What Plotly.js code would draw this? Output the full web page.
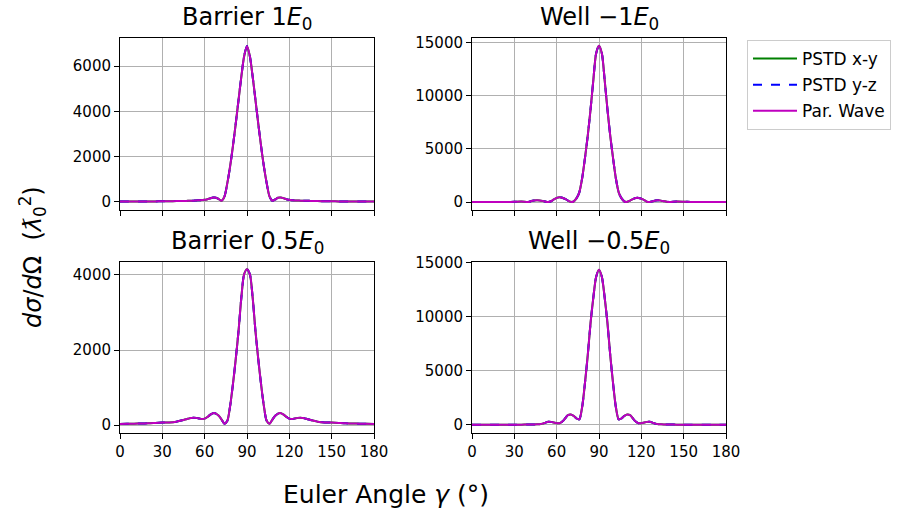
<!DOCTYPE html>
<html>
<head>
<meta charset="utf-8">
<script src="https://cdn.plot.ly/plotly-3.0.1.min.js"></script>
<style>html,body{margin:0;padding:0;background:#fff;}#chart{width:900px;height:516px;}</style>
</head>
<body>
<div id="chart"></div>
<script>
// Euler angle gamma (degrees)
const angles = [0,5,10,15,20,25,30,35,40,
  42,44,46,48,50,52,54,56,58,60,62,64,66,68,70,72,74,76,78,80,82,84,86,88,90,
  92,94,96,98,100,102,104,106,108,110,112,114,116,118,120,122,124,126,128,130,132,134,136,138,
  140,145,150,155,160,165,170,175,180];

// Barrier 1 E0
const barrier1 = [10,10,10,10,10,10,15,20,25,
  28,30,32,35,40,45,55,60,70,80,110,150,180,175,110,40,220,800,1550,2450,3450,4500,5550,6450,6900,
  6450,5550,4500,3450,2450,1550,800,220,40,100,170,180,150,110,80,65,55,50,45,40,38,35,32,30,
  25,20,15,10,10,10,10,10,10];

// Well -1 E0
const well1 = [5,5,5,5,5,10,30,55,10,
  100,150,170,160,120,50,10,80,250,400,460,420,300,150,30,60,350,900,2200,4100,6200,8700,11500,14000,14700,
  14000,11500,8700,6200,4100,2200,900,350,60,30,150,280,380,400,330,200,40,20,80,150,170,140,90,40,
  15,55,40,15,5,5,5,5,5];

// Barrier 0.5 E0
const barrier05 = [35,38,40,45,50,60,70,75,95,
  110,130,150,170,190,200,195,180,165,175,220,280,320,310,250,150,40,110,500,1080,1750,2500,3400,4020,4150,
  4020,3400,2500,1750,1080,500,110,40,150,250,310,320,280,220,175,165,180,195,200,190,170,150,130,110,
  95,75,70,60,50,45,40,38,35];

// Well -0.5 E0
const well05 = [15,15,15,15,15,15,15,15,20,
  25,30,40,60,110,200,280,270,210,150,140,300,600,900,950,820,600,500,1600,3800,6400,9400,11800,13700,14350,
  13700,11800,9400,6400,3800,1600,500,600,820,950,900,600,300,140,150,210,270,280,200,110,60,40,30,25,
  20,15,15,15,15,15,15,15,15];

const seriesNames = ['PSTD x-y', 'PSTD y-z', 'Par. Wave'];
const panelTitles = ['Barrier 1<i>E</i><sub>0</sub>', 'Well \u22121<i>E</i><sub>0</sub>',
                     'Barrier 0.5<i>E</i><sub>0</sub>', 'Well \u22120.5<i>E</i><sub>0</sub>'];
const xTicks = [0,30,60,90,120,150,180];

// the three methods overlap closely; same read values used for each
const panels = [
  {xy: barrier1, yz: barrier1, pw: barrier1},
  {xy: well1, yz: well1, pw: well1},
  {xy: barrier05, yz: barrier05, pw: barrier05},
  {xy: well05, yz: well05, pw: well05}
];

const styles = [
  {color: '#008000', dash: 'solid'},
  {color: '#0000ff', dash: 'dash'},
  {color: '#bf00bf', dash: 'solid'}
];

const traces = [];
panels.forEach((p, i) => {
  const ax = i === 0 ? '' : String(i + 1);
  [p.xy, p.yz, p.pw].forEach((vals, k) => {
    traces.push({
      x: angles, y: vals, type: 'scatter', mode: 'lines',
      name: seriesNames[k], legendgroup: 'g' + k, showlegend: i === 0,
      line: {color: styles[k].color, dash: styles[k].dash, width: 2, shape: 'spline', smoothing: 0.8},
      xaxis: 'x' + ax, yaxis: 'y' + ax, hoverinfo: 'skip'
    });
  });
});

const W = 900, H = 516;
const xd = [[120/W, 374/W], [472/W, 726/W]];
const yd = [[1 - 210/H, 1 - 38/H], [1 - 433/H, 1 - 262/H]];
const FF = 'DejaVu Sans, sans-serif';

function xaxis(col, row) {
  return {
    domain: xd[col], range: [0, 180], tickvals: xTicks, ticktext: xTicks.map(String),
    showticklabels: row === 1, ticks: 'outside', ticklen: 5, tickwidth: 1, tickcolor: '#000',
    showline: true, linecolor: '#000', linewidth: 1, mirror: true,
    showgrid: true, gridcolor: '#b0b0b0', gridwidth: 1, zeroline: false,
    tickfont: {family: FF, size: 15, color: '#000'}
  };
}
function yaxis(col, row, range, dtick) {
  return {
    domain: yd[row], range: range, tick0: 0, dtick: dtick, tickformat: 'd',
    ticks: 'outside', ticklen: 5, tickwidth: 1, tickcolor: '#000',
    showline: true, linecolor: '#000', linewidth: 1, mirror: true,
    showgrid: true, gridcolor: '#b0b0b0', gridwidth: 1, zeroline: false,
    tickfont: {family: FF, size: 15, color: '#000'}
  };
}

const layout = {
  width: W, height: H, autosize: false,
  margin: {l: 0, r: 0, t: 0, b: 0},
  paper_bgcolor: '#fff', plot_bgcolor: '#fff',
  font: {family: FF, color: '#000'},
  xaxis: Object.assign(xaxis(0, 0), {anchor: 'y'}),
  yaxis: Object.assign(yaxis(0, 0, [-370, 7250], 2000), {anchor: 'x'}),
  xaxis2: Object.assign(xaxis(1, 0), {anchor: 'y2'}),
  yaxis2: Object.assign(yaxis(1, 0, [-740, 15440], 5000), {anchor: 'x2'}),
  xaxis3: Object.assign(xaxis(0, 1), {anchor: 'y3'}),
  yaxis3: Object.assign(yaxis(0, 1, [-207, 4340], 2000), {anchor: 'x3'}),
  xaxis4: Object.assign(xaxis(1, 1), {anchor: 'y4'}),
  yaxis4: Object.assign(yaxis(1, 1, [-760, 15065], 5000), {anchor: 'x4'}),
  showlegend: true,
  legend: {
    x: 747/W, y: 1 - 40/H, xanchor: 'left', yanchor: 'top',
    bordercolor: '#cccccc', borderwidth: 1, bgcolor: '#fff',
    font: {family: FF, size: 17, color: '#000'},
    tracegroupgap: 1, itemwidth: 44
  },
  annotations: [
    {text: panelTitles[0], x: 247/W, y: 1 - 19/H},
    {text: panelTitles[1], x: 599/W, y: 1 - 19/H},
    {text: panelTitles[2], x: 247/W, y: 1 - 243/H},
    {text: panelTitles[3], x: 599/W, y: 1 - 243/H}
  ].map(a => Object.assign(a, {xref: 'paper', yref: 'paper', showarrow: false,
      xanchor: 'center', yanchor: 'middle', font: {family: FF, size: 24, color: '#000'}}))
  .concat([
    {text: 'Euler Angle <i>γ</i> (°)', x: 386/W, y: 1 - 494/H, xref: 'paper', yref: 'paper', showarrow: false,
     xanchor: 'center', yanchor: 'middle', font: {family: FF, size: 25, color: '#000'}},
    {text: '<i>dσ</i>/<i>d</i>Ω  (<i>ƛ</i><sub>0</sub><sup>2</sup>)', x: 32/W, y: 1 - 257/H, xref: 'paper', yref: 'paper',
     showarrow: false, textangle: -90, xanchor: 'center', yanchor: 'middle',
     font: {family: FF, size: 24, color: '#000'}}
  ])
};

Plotly.newPlot('chart', traces, layout, {displayModeBar: false, staticPlot: true});
</script>
</body>
</html>
